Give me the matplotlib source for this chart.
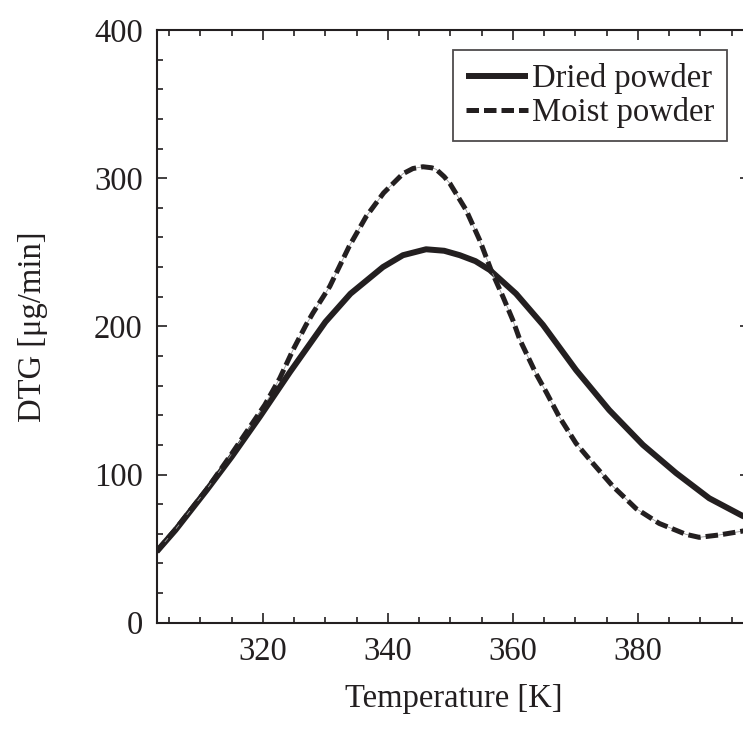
import matplotlib.pyplot as plt
from matplotlib.ticker import MultipleLocator

# 读出的数据点 (温度 K, DTG μg/min)
dried_T = [303, 306, 311, 315, 319.5, 324.3, 330, 334, 339.2, 342.4, 346.1, 349,
           351.5, 354, 356.3, 360.5, 364.8, 370.1, 375.4, 380.8, 386.1, 391.4, 397, 398]
dried_v = [48, 62.5, 89.5, 112, 139, 169, 203, 222, 240, 248, 252, 251,
           248, 244, 238, 222, 201, 170.5, 143.5, 120, 101, 84, 71.5, 69.5]

moist_T = [303, 306, 311, 315, 320.3, 322.7, 324.8, 326.9, 328, 330.7, 333.8, 336.5,
           339.3, 342.4, 344, 345.6, 347, 347.7, 349, 349.9, 352.5, 354.7, 356.5, 358.4,
           360, 361.1, 363.7, 365.4, 367.4, 370.1, 372.8, 376, 379.7, 383.4, 387.7,
           389.8, 393, 397, 398]
moist_v = [48, 63, 90, 114, 147, 165, 184, 201, 209, 227, 254, 274,
           290, 303, 306.5, 307.7, 307, 306, 301, 296.5, 278.5, 258, 238, 220,
           204, 191, 168, 155, 139, 121, 107.5, 92, 77, 67, 59.6,
           57.6, 59.2, 62, 62.8]

labels = ['Dried powder', 'Moist powder']
x_ticks = [320, 340, 360, 380]
y_ticks = [0, 100, 200, 300, 400]

ink = '#231f20'
plt.rcParams['font.family'] = ['Liberation Serif', 'DejaVu Serif']
plt.rcParams['font.size'] = 23.5

fig = plt.figure(figsize=(7.43, 7.33), dpi=100)
ax = fig.add_axes([0.2109, 0.1505, 0.7991, 0.8086])

ax.plot(dried_T, dried_v, color=ink, lw=4.3, label=labels[0],
        solid_capstyle='butt', solid_joinstyle='round')
# 虚线下面那条细灰线
ax.plot(moist_T, moist_v, color='#9a9a9a', lw=0.6)
ax.plot(moist_T, moist_v, color=ink, lw=3.6, dashes=(2.5, 1.0), label=labels[1],
        dash_joinstyle='round')

ax.set_xlim(303, 398)
ax.set_ylim(0, 400)
ax.set_xticks(x_ticks)
ax.set_yticks(y_ticks)
ax.xaxis.set_minor_locator(MultipleLocator(5))
ax.yaxis.set_minor_locator(MultipleLocator(20))
ax.tick_params(which='both', direction='in', top=True, right=True, colors=ink,
               width=1.2, pad=10, labelsize=23.5)
ax.tick_params(which='major', length=7.5)
ax.tick_params(which='minor', length=4)
for s in ax.spines.values():
    s.set_linewidth(1.5)
    s.set_color(ink)

ax.set_xlabel('Temperature [K]', color=ink, fontsize=23.5, labelpad=12)
ax.set_ylabel('DTG [μg/min]', color=ink, fontsize=23.5, labelpad=33)

leg = ax.legend(loc='upper right', bbox_to_anchor=(0.9605, 0.9663), borderaxespad=0,
                fancybox=False, frameon=True, edgecolor=ink, handlelength=1.9,
                handletextpad=0.1, borderpad=0.4, labelspacing=0.1, fontsize=23.5)
leg.get_frame().set_linewidth(1.3)
for t in leg.get_texts():
    t.set_color(ink)

plt.savefig('out.png', dpi=100)
